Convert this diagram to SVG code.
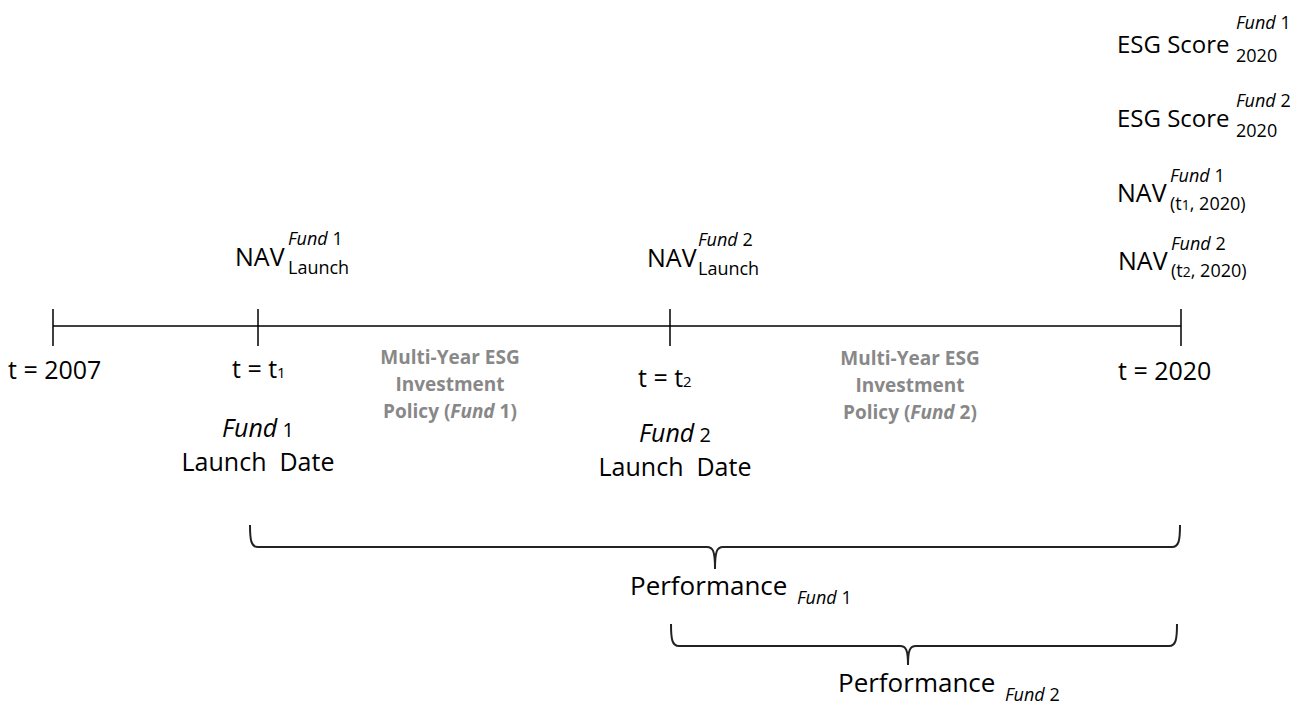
<svg xmlns="http://www.w3.org/2000/svg" width="1304" height="705" viewBox="0 0 1304 705">
<style>
text{font-family:"Open Sans","Liberation Sans",sans-serif;fill:#000;white-space:pre}
.m{font-size:25px}
.e{font-size:24px}
.p{font-size:26px}
.s{font-size:18px}
.i{font-style:italic}
.n{font-size:15px}
.g{font-size:19px;font-weight:bold;fill:#888;text-anchor:middle}
.ln{stroke:#000;stroke-width:1.5;fill:none}
.br{stroke:#222;stroke-width:2;fill:none}
</style>
<rect width="1304" height="705" fill="#fff"/>
<g id="connectors">
<line class="ln" x1="53" y1="326" x2="1181" y2="326"/>
<line class="ln" x1="53" y1="309" x2="53" y2="346"/>
<line class="ln" x1="258" y1="309" x2="258" y2="346"/>
<line class="ln" x1="670" y1="309" x2="670" y2="346"/>
<line class="ln" x1="1181" y1="309" x2="1181" y2="346"/>
<path class="br" d="M250,525 C250,540 251,547 258,547 L707,547 C713,547 715,551 715,569 C715,551 717,547 723,547 L1172,547 C1179,547 1180,540 1180,525"/>
<path class="br" d="M671,624 C671,639 672,646 679,646 L900,646 C906,646 908,650 908,665 C908,650 910,646 916,646 L1169,646 C1176,646 1177,639 1177,624"/>
</g>
<g id="t2007"><text class="m" x="8" y="379">t = 2007</text></g>
<g id="tt1"><text class="m" x="232" y="378">t = t<tspan class="n">1</tspan></text></g>
<g id="tt2"><text class="m" x="638" y="387">t = t<tspan class="n">2</tspan></text></g>
<g id="t2020"><text class="m" x="1118" y="380">t = 2020</text></g>
<g id="nav1">
<text class="m" x="235" y="266">NAV</text>
<text class="s" x="288" y="245"><tspan class="i">Fund</tspan> 1</text>
<text class="s" x="288" y="274">Launch</text>
</g>
<g id="nav2">
<text class="m" x="647" y="267">NAV</text>
<text class="s" x="698" y="246"><tspan class="i">Fund</tspan> 2</text>
<text class="s" x="698" y="275">Launch</text>
</g>
<g id="fund1launch">
<text class="m" x="258" y="437" text-anchor="middle"><tspan class="i">Fund</tspan><tspan font-size="20"> 1</tspan></text>
<text class="m" x="258" y="471" text-anchor="middle">Launch  Date</text>
</g>
<g id="fund2launch">
<text class="m" x="675" y="442" text-anchor="middle"><tspan class="i">Fund</tspan><tspan font-size="20"> 2</tspan></text>
<text class="m" x="675" y="476" text-anchor="middle">Launch  Date</text>
</g>
<g id="policy1">
<text class="g" x="450" y="364">Multi-Year ESG</text>
<text class="g" x="450" y="391">Investment</text>
<text class="g" x="450" y="418">Policy (<tspan font-style="italic">Fund</tspan> 1)</text>
</g>
<g id="policy2">
<text class="g" x="910" y="365">Multi-Year ESG</text>
<text class="g" x="910" y="392">Investment</text>
<text class="g" x="910" y="419">Policy (<tspan font-style="italic">Fund</tspan> 2)</text>
</g>
<g id="esg1">
<text class="e" x="1117" y="53">ESG Score</text>
<text class="s" x="1236" y="29"><tspan class="i">Fund</tspan> 1</text>
<text class="s" x="1236" y="62">2020</text>
</g>
<g id="esg2">
<text class="e" x="1117" y="127">ESG Score</text>
<text class="s" x="1236" y="107"><tspan class="i">Fund</tspan> 2</text>
<text class="s" x="1236" y="137">2020</text>
</g>
<g id="navend1">
<text class="m" x="1117" y="202">NAV</text>
<text class="s" x="1170" y="182"><tspan class="i">Fund</tspan> 1</text>
<text class="s" x="1170" y="210">(t<tspan font-size="14">1</tspan>, 2020)</text>
</g>
<g id="navend2">
<text class="m" x="1118" y="270">NAV</text>
<text class="s" x="1171" y="250"><tspan class="i">Fund</tspan> 2</text>
<text class="s" x="1171" y="277">(t<tspan font-size="14">2</tspan>, 2020)</text>
</g>
<g id="perf1">
<text class="p" x="630" y="595">Performance</text>
<text class="s i" x="797" y="604">Fund<tspan font-style="normal"> 1</tspan></text>
</g>
<g id="perf2">
<text class="p" x="838" y="692">Performance</text>
<text class="s i" x="1005" y="701">Fund<tspan font-style="normal"> 2</tspan></text>
</g>
</svg>
